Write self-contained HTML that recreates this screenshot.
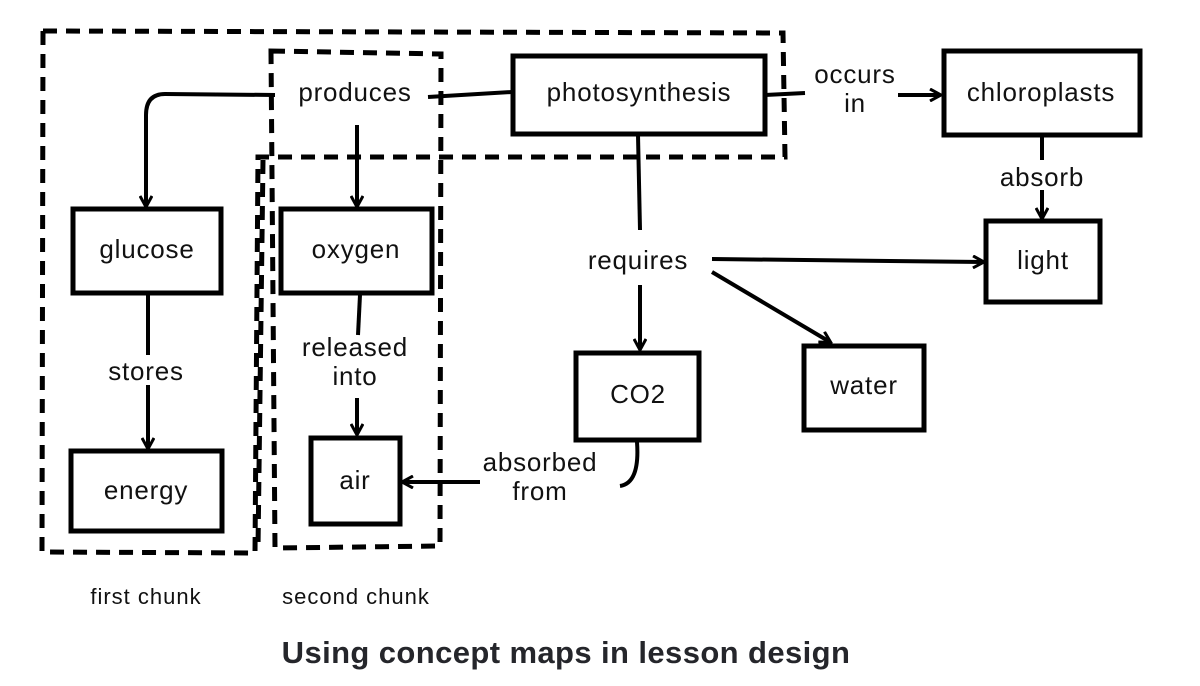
<!DOCTYPE html>
<html><head><meta charset="utf-8"><style>
html,body{margin:0;padding:0;background:#fff;}
svg{display:block;}
text{font-family:"Liberation Sans",sans-serif;fill:#111;}
</style></head><body>
<svg width="1200" height="686" viewBox="0 0 1200 686" xmlns="http://www.w3.org/2000/svg">
<defs>
<marker id="a" markerWidth="14" markerHeight="14" refX="11" refY="7" orient="auto" markerUnits="userSpaceOnUse">
<path d="M1,1 L12,7 L1,13" fill="none" stroke="#000" stroke-width="3"/>
</marker>
</defs>
<g fill="none" stroke="#000" stroke-width="5" stroke-dasharray="14,9">
<path d="M43,31 L783,33 L785,157 L258,157 L255,553 L42,552 Z"/>
<path d="M271,51 L441,54 L440,546 L275,548 Z"/>
<path d="M263,160 L258,548"/>
</g>
<g fill="#fff" stroke="#000" stroke-width="5">
<rect x="513" y="56" width="252" height="78"/>
<rect x="944" y="51" width="196" height="84"/>
<rect x="73" y="209" width="148" height="84"/>
<rect x="281" y="209" width="151" height="84"/>
<rect x="71" y="451" width="151" height="80"/>
<rect x="311" y="438" width="89" height="86"/>
<rect x="576" y="353" width="123" height="87"/>
<rect x="804" y="346" width="120" height="84"/>
<rect x="986" y="221" width="114" height="81"/>
</g>
<g fill="none" stroke="#000" stroke-width="4" marker-end="url(#a)">
<path d="M275,95 L165,94 Q146,94 146,115 L146,206"/>
<path d="M357,125 L357,206"/>
<path d="M357,398 L357,434"/>
<path d="M148,385 L148,448"/>
<path d="M898,95 L940,95"/>
<path d="M1042,190 L1042,218"/>
<path d="M712,259 L983,262"/>
<path d="M712,272 L830,342"/>
<path d="M640,285 L640,349"/>
<path d="M480,482 L403,482"/>
</g>
<g fill="none" stroke="#000" stroke-width="4">
<path d="M512,92 L428,97"/>
<path d="M360,295 L358,335"/>
<path d="M148,295 L148,355"/>
<path d="M765,95 L805,93"/>
<path d="M1042,135 L1042,160"/>
<path d="M638,135 L640,230"/>
<path d="M637,442 Q640,483 620,486"/>
</g>
<g font-size="26" text-anchor="middle" letter-spacing="0.8">
<text x="639" y="101">photosynthesis</text>
<text x="1041" y="101">chloroplasts</text>
<text x="147" y="258">glucose</text>
<text x="356" y="258">oxygen</text>
<text x="146" y="499">energy</text>
<text x="355" y="489">air</text>
<text x="638" y="403">CO2</text>
<text x="864" y="394">water</text>
<text x="1043" y="269">light</text>
<text x="355" y="101">produces</text>
<text x="855" y="83">occurs</text>
<text x="855" y="112">in</text>
<text x="1042" y="186">absorb</text>
<text x="638" y="269">requires</text>
<text x="146" y="380">stores</text>
<text x="355" y="356">released</text>
<text x="355" y="385">into</text>
<text x="540" y="471">absorbed</text>
<text x="540" y="500">from</text>
</g>
<g font-size="22" text-anchor="middle" letter-spacing="1">
<text x="146" y="604">first chunk</text>
<text x="356" y="604">second chunk</text>
</g>
<text x="566" y="663" font-size="31" font-weight="bold" text-anchor="middle" letter-spacing="0.4" style="fill:#25262b">Using concept maps in lesson design</text>
</svg>
</body></html>
